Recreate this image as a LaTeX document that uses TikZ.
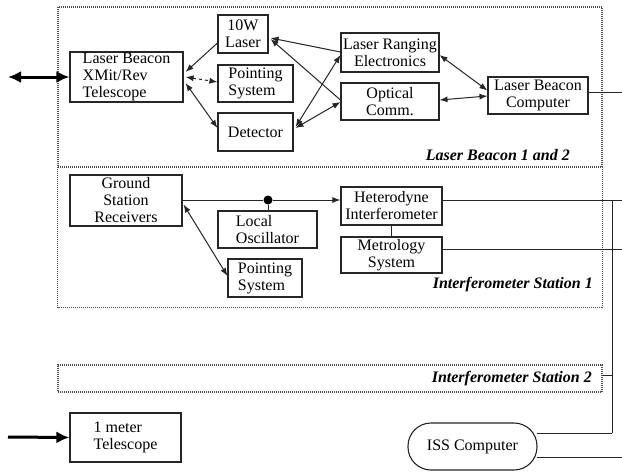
\documentclass[tikz,border=0pt]{standalone}
\usepackage{fontspec}
\setmainfont{Liberation Serif}
\usetikzlibrary{arrows.meta,calc}
\begin{document}
\begin{tikzpicture}[x=1pt,y=-1pt,
  >={Latex[length=8pt,width=6pt]},
  box/.style={draw=black!85,line width=1.1pt,inner sep=0pt,align=center,font=\fontsize{16}{17}\selectfont},
  lbox/.style={box,align=left},
  grp/.style={draw=black!70,line width=1.1pt,dash pattern=on 1pt off 1pt,inner sep=0pt},
  lab/.style={font=\fontsize{16}{16}\selectfont\bfseries\itshape,inner sep=0pt,anchor=east},
  conn/.style={line width=1pt,draw=black!85},
  bigarrow/.style={line width=3pt,>={Latex[length=13pt,width=12pt]}}]
\useasboundingbox (0,0) rectangle (622,472);
\fill[white] (0,0) rectangle (622,472);

% group frames
\node[grp,minimum width=544pt,minimum height=160pt] (g1) at (330,87) {};
\node[inner sep=0pt,minimum width=544pt,minimum height=140pt] (g2) at (330,237) {};
\draw[grp] (g2.north west) -- (g2.south west) -- (g2.south east) -- (g2.north east);
\node[grp,minimum width=544pt,minimum height=27pt] (g3) at (330,378.5) {};
\node[lab] (l1) at (570,155) {Laser Beacon 1 and 2};
\node[lab] (l2) at (593,285) {Interferometer Station 1};
\node[lab] (l3) at (592,379) {Interferometer Station 2};

% laser beacon boxes
\node[lbox,minimum width=113pt,minimum height=50pt] (tel) at (126.5,77) {Laser Beacon\\XMit/Rev\\Telescope};
\node[box,minimum width=50pt,minimum height=38pt] (laser) at (243,34) {10W\\Laser};
\node[lbox,minimum width=75pt,minimum height=37pt] (pt1) at (255.5,83.5) {Pointing\\System};
\node[box,minimum width=75pt,minimum height=38pt] (det) at (255.5,132) {Detector};
\node[box,minimum width=98pt,minimum height=39pt] (lre) at (390,52.5) {Laser Ranging\\Electronics};
\node[box,minimum width=98pt,minimum height=37pt] (oc) at (390,101.5) {Optical\\Comm.};
\node[box,minimum width=100pt,minimum height=37pt] (lbc) at (538,95.5) {Laser Beacon\\Computer};

% interferometer station 1 boxes
\node[box,minimum width=112pt,minimum height=51pt] (gsr) at (126,200.5) {Ground\\Station\\Receivers};
\node[lbox,minimum width=99pt,minimum height=37pt] (lo) at (267.5,229.5) {Local\\Oscillator};
\node[lbox,minimum width=74pt,minimum height=38pt] (pt2) at (265,278) {Pointing\\System};
\node[box,minimum width=101pt,minimum height=38pt] (het) at (391.5,206) {Heterodyne\\Interferometer};
\node[box,minimum width=101pt,minimum height=36pt] (met) at (391.5,255) {Metrology\\System};

% bottom
\node[lbox,minimum width=111pt,minimum height=49pt] (onem) at (125.5,437.5) {1 meter\\Telescope};
\node[box,rounded corners=23pt,minimum width=129pt,minimum height=47pt] (iss) at (472.5,446.5) {ISS Computer};

% coordinates for free ends
\coordinate (inL) at (8,77);
\coordinate (inB) at (8,437);
\coordinate (e1) at (622,92);
\coordinate (v1) at (612,200);
\coordinate (v2) at (612,433);
\coordinate (vt) at (612,375);
\coordinate (e2) at (622,200);
\coordinate (e3) at (622,249);
\coordinate (e4) at (622,457);

% big arrows
\draw[bigarrow,<->] (inL) -- (tel.west);
\draw[bigarrow,->] (inB) -- (onem.west);

% laser beacon connectors
\draw[conn,->] ($(laser.west)+(0,9)$) -- ($(tel.east)+(2,-5)$);
\draw[conn,<->,dashed] ($(tel.east)+(2,0)$) -- ($(pt1.west)+(0,-1.5)$);
\draw[conn,<->] ($(tel.east)+(2,6)$) -- ($(det.west)+(0,-4)$);
\draw[conn,->] ($(lre.west)+(0,-0.5)$) -- ($(laser.east)+(2,4)$);
\draw[conn,->] ($(oc.west)+(0,-1.5)$) -- ($(laser.east)+(2,5)$);
\draw[conn,<->] ($(det.east)+(2,-5)$) -- ($(lre.west)+(0,2.5)$);
\draw[conn,<->] ($(det.east)+(2,-4)$) -- ($(oc.west)+(0,0.5)$);
\draw[conn,<->] ($(lre.east)+(0,2.5)$) -- ($(lbc.west)+(0,-5)$);
\draw[conn,<->] ($(oc.east)+(0,-1.5)$) -- ($(lbc.west)+(0,0.5)$);
\draw[conn] ($(lbc.east)+(0,-3.5)$) -- (e1);

% interferometer connectors
\coordinate (gsrR) at ($(gsr.east)+(0,-0.5)$);
\node[circle,fill=black,inner sep=0pt,minimum size=9pt] (dot) at (268,200) {};
\draw[conn,->] (gsrR) -- (dot) -- ($(het.west)+(0,-6)$);
\draw[conn] (dot) -- (lo.north -| dot);
\draw[conn,<->] ($(gsr.east)+(1,4)$) -- ($(pt2.west)+(0,-2)$);
\draw[conn] (het.south) -- (met.north);
\draw[conn] ($(het.east)+(0,-6)$) -- (e2);
\draw[conn] ($(met.east)+(0,-6)$) -- (e3);

% right-hand bus
\draw[conn] (v1) -- (v2);
\draw[conn] (g3.east |- vt) -- (vt);
\draw[conn] ($(iss.east)+(-1,-13.5)$) -- (v2);
\draw[conn] ($(iss.east)+(-1,10.5)$) -- (e4);
\end{tikzpicture}
\end{document}
